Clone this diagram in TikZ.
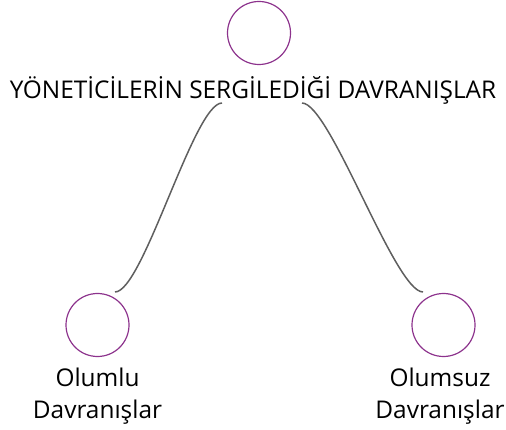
\documentclass[tikz,border=0pt]{standalone}
\usepackage{fontspec}
\setmainfont{Open Sans}
\definecolor{circleColor}{RGB}{140,50,140}
\definecolor{linkColor}{RGB}{95,95,95}
\begin{document}
\begin{tikzpicture}[x=1pt, y=-1pt, circleStyle/.style={circle, draw=circleColor, line width=1.2pt, minimum size=63pt, inner sep=0pt}, labelStyle/.style={font=\fontsize{24.4}{32}\selectfont, align=center, inner sep=0pt, text=black}, linkStyle/.style={draw=linkColor, line width=1.5pt}]
    \useasboundingbox (0,0) rectangle (506,430);

    \node[circleStyle] (root)       at (259, 33) {};
    \node[labelStyle]  (root_label) at (253, 90) {YÖNETİCİLERİN SERGİLEDİĞİ DAVRANIŞLAR};

    \node[circleStyle] (left)        at ( 97.5, 325) {};
    \node[labelStyle]  (left_label)  at ( 97.5, 396) {Olumlu\\Davranışlar};

    \node[circleStyle] (right)       at (443.5, 325) {};
    \node[labelStyle]  (right_label) at (440,   396) {Olumsuz\\Davranışlar};

    \coordinate (root_L)  at (222, 103);
    \coordinate (root_R)  at (302, 103);
    \coordinate (left_T)  at (115, 292);
    \coordinate (right_T) at (423, 292);

    \draw[linkStyle] (root_L) .. controls +(-28,0) and +(28,0) .. (left_T);
    \draw[linkStyle] (root_R) .. controls +(28,0) and +(-28,0) .. (right_T);
\end{tikzpicture}
\end{document}
